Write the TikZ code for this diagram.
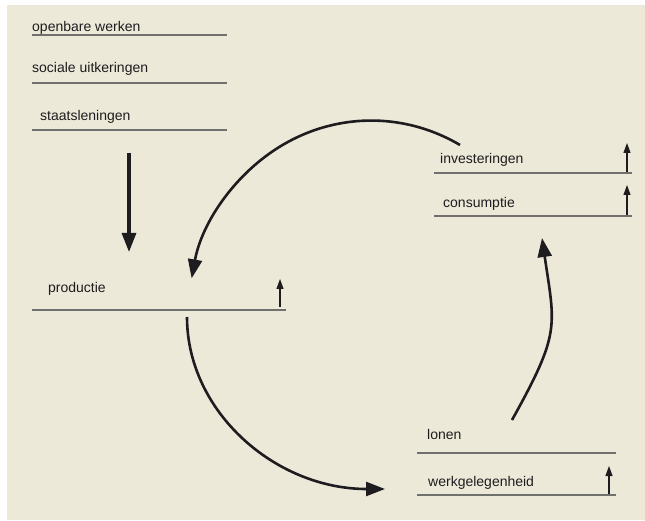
\documentclass[tikz,border=0pt]{standalone}
\usepackage{fontspec}
\setmainfont{Liberation Sans}
\usetikzlibrary{arrows.meta}
\definecolor{paper}{RGB}{236,233,217}
\definecolor{rulegray}{RGB}{112,112,108}
\definecolor{ink}{RGB}{30,28,30}

\begin{document}
\begin{tikzpicture}[x=1pt,y=-1pt,>={Triangle[length=19pt,width=14pt]},
                    font=\fontsize{14}{17}\selectfont]
  \tikzstyle{item}=[anchor=base west,inner sep=0pt,text=ink]
  \tikzstyle{rule}=[draw=rulegray,line width=1.4pt]
  \tikzstyle{flow}=[draw=ink,line width=2.6pt,->]
  \tikzstyle{rise}=[draw=ink,line width=1.1pt,-{Triangle[length=10pt,width=7pt]}]
  \useasboundingbox (0,0) rectangle (645,521);
  \fill[paper] (7,5) rectangle (645,520);
  % the labels
  \node[item] (ow)  at (32,32)    {openbare werken};
  \node[item] (su)  at (32,73)    {sociale uitkeringen};
  \node[item] (sl)  at (40,120.5) {staatsleningen};
  \node[item] (pr)  at (48,293)   {productie};
  \node[item] (inv) at (440,164)  {investeringen};
  \node[item] (con) at (443,207.5){consumptie};
  \node[item] (lon) at (427,439)  {lonen};
  \node[item] (wg)  at (428,486)  {werkgelegenheid};
  % underlines
  \foreach \xa/\xb/\y in {32/227/35, 32/227/83, 32/227/130, 32/286/310,
                          434/632/173, 434/632/216, 417/616/453, 417/616/495}
    \draw[rule] (\xa,\y) -- (\xb,\y);
  % small arrows (stijging)
  \foreach \x/\ya/\yb in {280/307/279, 627/172/143, 627/215/185, 609/494/466}
    \draw[rise] (\x,\ya) -- (\x,\yb);
  % end points of the flows
  \coordinate (sl-out)  at (129,153);
  \coordinate (pr-in)   at (129,252);
  \coordinate (inv-out) at (460,145);
  \coordinate (pr-out)  at (187,317);
  \coordinate (lon-out) at (512,420);
  \coordinate (con-in)  at (542,238);
  \draw[flow,line width=3.2pt,->={Triangle[length=18pt,width=15pt]}]
    (sl-out) -- (pr-in);
  \draw[flow] (inv-out) arc[start angle=61,end angle=169,x radius=183pt,y radius=195pt];
  \draw[flow] (pr-out) arc[start angle=180,end angle=270,x radius=198pt,y radius=172pt];
  \draw[flow] (lon-out) .. controls (561,332) and (555,327) .. (con-in);
\end{tikzpicture}
\end{document}
